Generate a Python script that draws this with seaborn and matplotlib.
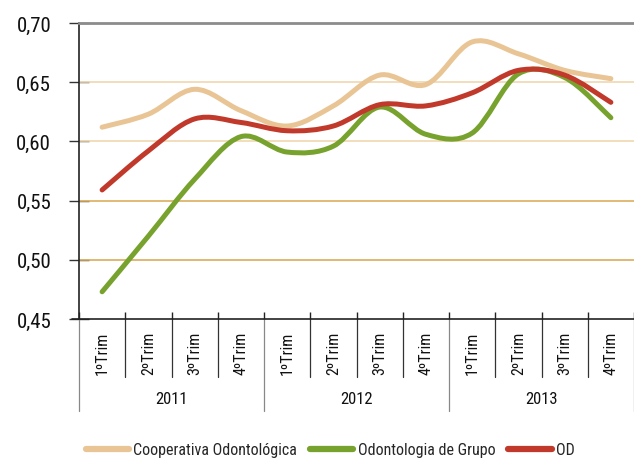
import matplotlib
matplotlib.use("Agg")
import matplotlib.pyplot as plt
import matplotlib.transforms as mtransforms
from matplotlib.path import Path
from matplotlib.patches import PathPatch
from matplotlib.lines import Line2D
import seaborn as sns

# ---- data ----
years = ["2011", "2012", "2013"]
quarters = ["1ºTrim", "2ºTrim", "3ºTrim", "4ºTrim"]
cooperativa = [0.612, 0.623, 0.644, 0.626, 0.613, 0.630,
               0.656, 0.648, 0.684, 0.674, 0.660, 0.653]
grupo = [0.473, 0.520, 0.568, 0.604, 0.591, 0.596,
         0.629, 0.606, 0.607, 0.657, 0.654, 0.620]
od = [0.559, 0.592, 0.619, 0.616, 0.609, 0.613,
      0.631, 0.630, 0.641, 0.660, 0.656, 0.633]
series_names = ["Cooperativa Odontológica", "Odontologia de Grupo", "OD"]
yticks = [0.45, 0.50, 0.55, 0.60, 0.65, 0.70]

colors = ["#e9c595", "#77a22d", "#c0392b"]

sns.set_theme(style="white")
plt.rcParams["font.family"] = ["Roboto Condensed", "DejaVu Sans"]


def smooth_path(xs, ys):
    # excel-like smoothed line: catmull-rom converted to cubic bezier
    n = len(xs)
    verts = [(xs[0], ys[0])]
    codes = [Path.MOVETO]
    for i in range(n - 1):
        a = max(i - 1, 0)
        d = min(i + 2, n - 1)
        c1 = (xs[i] + (xs[i + 1] - xs[a]) / 6, ys[i] + (ys[i + 1] - ys[a]) / 6)
        c2 = (xs[i + 1] - (xs[d] - xs[i]) / 6, ys[i + 1] - (ys[d] - ys[i]) / 6)
        verts += [c1, c2, (xs[i + 1], ys[i + 1])]
        codes += [Path.CURVE4] * 3
    return Path(verts, codes)


W, H = 634, 460
fig = plt.figure(figsize=(W / 100, H / 100), dpi=100)
ax = fig.add_axes([79 / W, 1 - 320 / H, 1 - 79 / W, 296 / H])

n = len(years) * len(quarters)
x = list(range(n))

# gridlines
for yv, c in zip([0.50, 0.55, 0.60, 0.65], ["#d9ab5a", "#dcaf5e", "#f0d7b0", "#f0d7b0"]):
    ax.axhline(yv, color=c, lw=1.2, zorder=1)

for vals, c in zip([cooperativa, grupo, od], colors):
    ax.add_patch(PathPatch(smooth_path(x, vals), fill=False, edgecolor=c,
                           lw=3.6, capstyle="round", zorder=3))

ax.set_xlim(-0.5, -0.5 + 555 / 46.45)
ax.set_ylim(0.45, 0.70)

ax.set_yticks(yticks)
ax.set_yticklabels([f"{v:.2f}".replace(".", ",") for v in yticks], fontsize=15)
ax.tick_params(axis="y", direction="inout", length=14, width=1, color="#333333",
               pad=13, left=True, labelcolor="#111111")
ax.set_xticks([i - 0.5 for i in range(n + 1)])
ax.set_xticklabels([])
ax.tick_params(axis="x", direction="in", length=5, width=1, color="#222222", bottom=True)

ax.spines["right"].set_visible(False)
ax.spines["top"].set_color("#8c8c8c")
ax.spines["top"].set_linewidth(2)
ax.spines["left"].set_color("#222222")
ax.spines["left"].set_linewidth(1.2)
ax.spines["bottom"].set_color("#222222")
ax.spines["bottom"].set_linewidth(1.2)

# category axis below the plot (quarters + years)
trans = mtransforms.blended_transform_factory(ax.transData, ax.transAxes)


def ay(px):
    return -(px - 320) / 296


ax.plot([-0.5 - 7 / 46.45, -0.5], [0, 0], transform=trans, color="#222222",
        lw=1.2, clip_on=False)
for i in range(n + 1):
    bottom = 412 if i % 4 == 0 else 378
    col = "#888888" if i % 4 == 0 else "#333333"
    ax.plot([i - 0.5, i - 0.5], [0, ay(bottom)], transform=trans, color=col,
            lw=0.9, clip_on=False)

for i in range(n):
    ax.text(i, ay(353), quarters[i % 4], transform=trans, rotation=90,
            ha="center", va="center", fontsize=11.5, color="#111111")
for j, yr in enumerate(years):
    ax.text(j * 4 + 1.5, ay(400), yr, transform=trans, ha="center",
            va="center", fontsize=12, color="#111111")

handles = [Line2D([0], [0], color=c, lw=4.5, solid_capstyle="round") for c in colors]
fig.legend(handles, series_names, loc="center", bbox_to_anchor=(0.521, 1 - 451 / H),
           ncol=3, frameon=False, fontsize=11.5, handlelength=2.7,
           handletextpad=0.3, columnspacing=0.8, borderaxespad=0)

fig.savefig("out.png", dpi=100)
